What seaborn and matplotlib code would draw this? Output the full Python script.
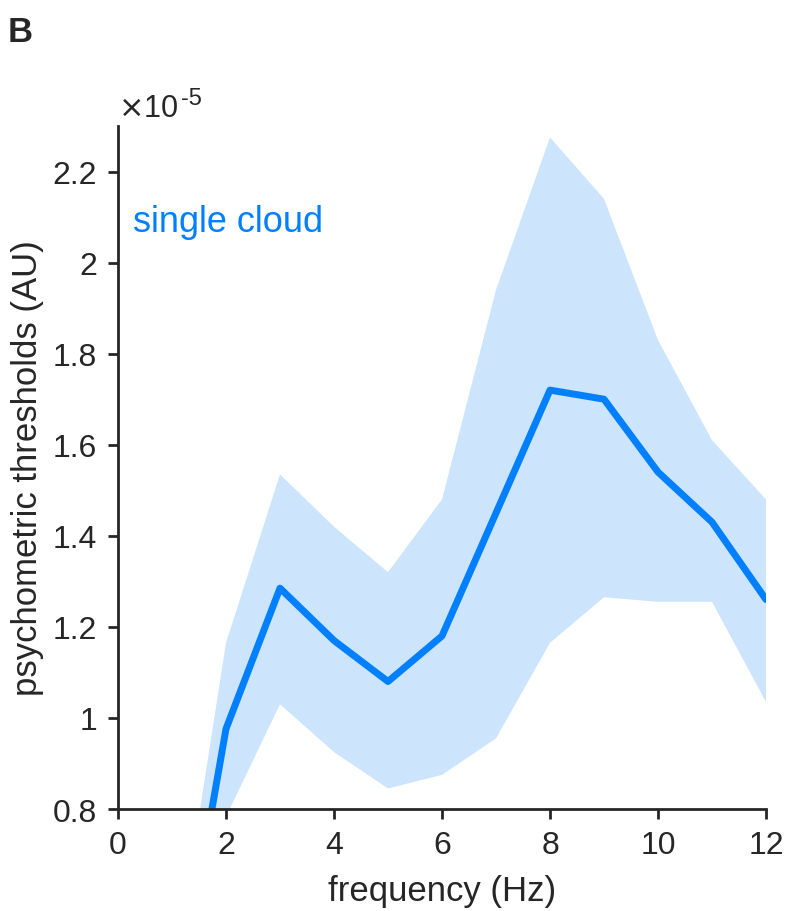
import numpy as np
import pandas as pd
import matplotlib
matplotlib.use('Agg')
import matplotlib.pyplot as plt
from matplotlib.ticker import FuncFormatter
import seaborn as sns

# values, in units of 1e-5
freq = [1, 2, 3, 4, 5, 6, 7, 8, 9, 10, 11, 12]
thresh = [0.30, 0.976, 1.285, 1.17, 1.08, 1.18, 1.45, 1.72, 1.70, 1.54, 1.43, 1.26]
upper = [0.405, 1.165, 1.535, 1.42, 1.32, 1.48, 1.94, 2.275, 2.14, 1.83, 1.61, 1.48]
lower = [0.20, 0.783, 1.03, 0.925, 0.845, 0.875, 0.955, 1.165, 1.265, 1.255, 1.255, 1.035]
scale = 1e-5

line_col = '#0080ff'
band_col = '#cce5fc'
dark = '#262626'

sns.set_style('ticks')
plt.rcParams['font.family'] = ['Liberation Sans', 'DejaVu Sans']
plt.rcParams['axes.unicode_minus'] = False

df = pd.DataFrame({'freq': freq,
                   'thr': np.array(thresh) * scale,
                   'lo': np.array(lower) * scale,
                   'hi': np.array(upper) * scale})

fig = plt.figure(figsize=(7.86, 9.12), dpi=100)
ax = fig.add_axes([118 / 786, 1 - 810 / 912, (766 - 118) / 786, (810 - 127) / 912])

ax.fill_between(df['freq'], df['lo'], df['hi'], color=band_col, linewidth=0)
sns.lineplot(data=df, x='freq', y='thr', ax=ax, color=line_col, linewidth=5)

ax.set_xlim(0, 12)
ax.set_ylim(0.8 * scale, 2.3 * scale)
ax.set_xticks(range(0, 13, 2))
ax.set_yticks(np.arange(0.8, 2.21, 0.2) * scale)
ax.yaxis.set_major_formatter(FuncFormatter(lambda v, p: '{:g}'.format(round(v / scale, 2))))

for s in ['top', 'right']:
    ax.spines[s].set_visible(False)
for s in ['left', 'bottom']:
    ax.spines[s].set_linewidth(2)
    ax.spines[s].set_color(dark)
ax.tick_params(axis='both', labelsize=23, colors=dark, width=2, length=7, direction='out')
ax.tick_params(axis='x', pad=8)
ax.tick_params(axis='y', pad=8)

ax.set_xlabel('frequency (Hz)', fontsize=25, color=dark, labelpad=10)
ax.set_ylabel('psychometric thresholds (AU)', fontsize=25, color=dark, labelpad=6)

# exponent label above the y axis
ax.text(0.0, 1.005, r'$\times$10', transform=ax.transAxes,
        fontsize=22, color=dark, ha='left', va='bottom')
ax.text(0.097, 1.025, '-5', transform=ax.transAxes,
        fontsize=17, color=dark, ha='left', va='bottom')
ax.text(0.023, 0.86, 'single cloud', transform=ax.transAxes,
        fontsize=26, color=line_col, ha='left', va='center')
fig.text(8 / 786, 1 - 32 / 912, 'B', fontsize=25, fontweight='bold', ha='left', va='center')

fig.savefig('out.png', dpi=100)
